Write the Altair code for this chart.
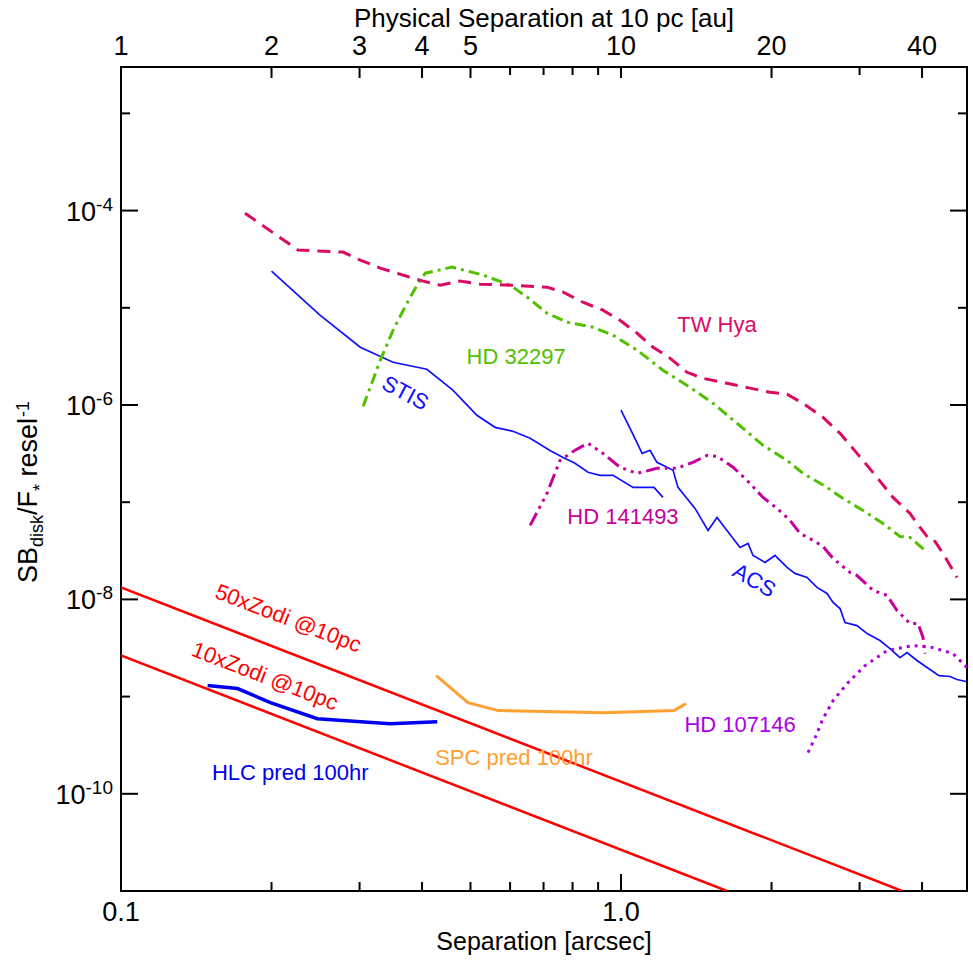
import altair as alt
import pandas as pd

# ---------------- data (separation in arcsec, SB_disk/F* per resel) ----------------
tw_x = [0.177, 0.226, 0.278, 0.301, 0.330, 0.373, 0.402, 0.435, 0.476, 0.523, 0.600, 0.711, 0.766,
        0.839, 0.920, 0.995, 1.077, 1.159, 1.253, 1.355, 1.459, 1.629, 1.811, 1.986, 2.148, 2.312,
        2.535, 2.742, 2.965, 3.251, 3.499, 3.784, 3.963, 4.150, 4.246, 4.406, 4.699]
tw_y = [9.4e-5, 3.92e-5, 3.74e-5, 3.09e-5, 2.56e-5, 2.11e-5, 1.88e-5, 1.71e-5, 1.88e-5, 1.75e-5,
        1.71e-5, 1.63e-5, 1.45e-5, 1.14e-5, 9.45e-6, 7.45e-6, 5.47e-6, 3.93e-6, 3.03e-6, 2.17e-6,
        1.88e-6, 1.67e-6, 1.49e-6, 1.35e-6, 1.29e-6, 1.04e-6, 7.46e-7, 5.11e-7, 3.18e-7, 1.80e-7,
        1.12e-7, 7.67e-8, 5.50e-8, 4.04e-8, 3.95e-8, 2.97e-8, 1.68e-8]

hd32297_x = [0.305, 0.330, 0.350, 0.373, 0.393, 0.406, 0.459, 0.530, 0.600, 0.649, 0.711, 0.780,
             0.879, 0.964, 1.077, 1.213, 1.374, 1.528, 1.706, 1.923, 2.148, 2.312, 2.582, 2.780,
             3.048, 3.342, 3.614, 3.784, 4.055]
hd32297_y = [9.7e-7, 2.88e-6, 5.87e-6, 1.11e-5, 1.79e-5, 2.27e-5, 2.62e-5, 2.17e-5, 1.71e-5,
             1.29e-5, 8.80e-6, 7.12e-6, 6.31e-6, 5.22e-6, 3.66e-6, 2.28e-6, 1.52e-6, 1.04e-6,
             6.49e-7, 3.85e-7, 2.69e-7, 1.98e-7, 1.42e-7, 1.09e-7, 8.23e-8, 6.04e-8, 4.44e-8,
             4.34e-8, 3.19e-8]

stis_x = [0.200, 0.250, 0.301, 0.350, 0.409, 0.461, 0.515, 0.560, 0.608, 0.658, 0.721, 0.766,
          0.809, 0.859, 0.908, 0.964, 1.057, 1.164, 1.213]
stis_y = [2.38e-5, 8.39e-6, 3.93e-6, 2.75e-6, 2.33e-6, 1.42e-6, 7.84e-7, 5.89e-7, 5.36e-7,
          4.54e-7, 3.41e-7, 2.89e-7, 2.51e-7, 2.03e-7, 1.89e-7, 1.89e-7, 1.42e-7, 1.42e-7, 1.12e-7]

acs_x = [1.000, 1.052, 1.102, 1.143, 1.180, 1.225, 1.271, 1.300, 1.355, 1.406, 1.493, 1.556,
         1.629, 1.730, 1.795, 1.837, 1.941, 2.032, 2.148, 2.228, 2.355, 2.466, 2.582, 2.655,
         2.742, 2.805, 2.965, 3.105, 3.296, 3.451, 3.614, 3.733, 3.908, 4.093, 4.325, 4.550,
         4.699, 4.898]
acs_y = [8.83e-7, 5.24e-7, 3.18e-7, 3.42e-7, 2.57e-7, 2.34e-7, 2.13e-7, 1.42e-7, 1.09e-7,
         8.63e-8, 5.12e-8, 6.97e-8, 5.12e-8, 3.42e-8, 3.76e-8, 2.83e-8, 2.40e-8, 2.83e-8,
         2.13e-8, 1.85e-8, 1.68e-8, 1.33e-8, 1.15e-8, 9.3e-9, 8.06e-9, 5.78e-9, 5.38e-9,
         4.45e-9, 3.77e-9, 3.12e-9, 2.52e-9, 2.84e-9, 2.35e-9, 1.99e-9, 1.64e-9, 1.61e-9,
         1.50e-9, 1.43e-9]

hd141493_x = [0.658, 0.711, 0.755, 0.809, 0.859, 0.920, 0.995, 1.077, 1.180, 1.294, 1.393,
              1.486, 1.556, 1.675, 1.786, 1.923, 2.051, 2.178, 2.280, 2.421, 2.535, 2.655,
              2.871, 2.965, 3.192, 3.404, 3.565, 3.784, 3.926, 4.018, 4.055]
hd141493_y = [5.77e-8, 1.23e-7, 2.69e-7, 3.42e-7, 4.04e-7, 3.18e-7, 2.29e-7, 1.98e-7, 2.23e-7,
              2.23e-7, 2.57e-7, 3.03e-7, 2.96e-7, 2.29e-7, 1.68e-7, 1.12e-7, 8.63e-8, 6.50e-8,
              4.78e-8, 4.05e-8, 3.51e-8, 2.64e-8, 1.89e-8, 1.76e-8, 1.24e-8, 1.10e-8, 7.69e-9,
              5.65e-9, 5.65e-9, 4.06e-9, 2.77e-9]

hd107146_x = [2.366, 2.455, 2.535, 2.655, 2.844, 3.076, 3.404, 3.837, 4.207, 4.613, 4.920]
hd107146_y = [2.65e-10, 3.96e-10, 5.93e-10, 9.08e-10, 1.39e-9, 2.08e-9, 2.97e-9, 3.35e-9,
              3.19e-9, 2.77e-9, 1.99e-9]

zodi50_x = [0.1, 3.65]
zodi50_y = [1.33e-8, 1.0e-11]
zodi10_x = [0.1, 1.63]
zodi10_y = [2.65e-9, 1.0e-11]

hlc_x = [0.149, 0.171, 0.199, 0.247, 0.345, 0.429]
hlc_y = [1.30e-9, 1.21e-9, 8.67e-10, 5.93e-10, 5.27e-10, 5.52e-10]

spc_x = [0.427, 0.494, 0.568, 0.925, 1.276, 1.349]
spc_y = [1.64e-9, 8.67e-10, 7.18e-10, 6.84e-10, 7.18e-10, 8.47e-10]

# axis ticks
x_major = [0.1, 1.0]
x_minor = [0.2, 0.3, 0.4, 0.5, 0.6, 0.7, 0.8, 0.9, 2.0, 3.0, 4.0]
x_labels = ["0.1", "1.0"]
au_labeled = [2, 3, 4, 5, 10, 20, 40]
au_label_text = [1, 2, 3, 4, 5, 10, 20, 40]
au_minor = [6, 7, 8, 9, 30]
distance_pc = 10.0
y_major_exp = [-4, -6, -8, -10]
y_minor_exp = [-3, -5, -7, -9]

# annotations: (text, x, y, color, angle)
annotations = [
    ("TW Hya", 1.556, 6.62e-6, "#dd0a64", 0),
    ("HD 32297", 0.617, 3.10e-6, "#50c000", 0),
    ("STIS", 0.370, 1.32e-6, "#1010ff", 28),
    ("HD 141493", 1.009, 6.97e-8, "#c8009a", 0),
    ("ACS", 1.845, 1.56e-8, "#1010ff", 30),
    ("HD 107146", 1.730, 5.14e-10, "#aa00e6", 0),
    ("SPC pred 100hr", 0.611, 2.35e-10, "#ffa033", 0),
    ("HLC pred 100hr", 0.218, 1.65e-10, "#0000ee", 0),
    ("50xZodi @10pc", 0.216, 6.35e-9, "#ff0000", 21),
    ("10xZodi @10pc", 0.194, 1.61e-9, "#ff0000", 21),
]

# ---------------- chart ----------------
W, H = 846, 824
FONT = "Liberation Sans"
xs = alt.Scale(type="log", domain=[0.1, 4.92], nice=False)
ys = alt.Scale(type="log", domain=[1e-11, 3e-3], nice=False)


def X(f="x"):
    return alt.X(f"{f}:Q", scale=xs, axis=None)


def Y(f="y"):
    return alt.Y(f"{f}:Q", scale=ys, axis=None)


def line(xv, yv, color, width, dash=None):
    df = pd.DataFrame({"x": xv, "y": yv, "o": list(range(len(xv)))})
    kw = dict(color=color, strokeWidth=width, clip=True, strokeCap="butt")
    if dash:
        kw["strokeDash"] = dash
    return alt.Chart(df).mark_line(**kw).encode(x=X(), y=Y(), order="o:Q")


layers = [
    line(zodi50_x, zodi50_y, "#ff0000", 2.5),
    line(zodi10_x, zodi10_y, "#ff0000", 2.5),
    line(spc_x, spc_y, "#ffa033", 3),
    line(hlc_x, hlc_y, "#0000ee", 3.5),
    line(stis_x, stis_y, "#1010ff", 1.7),
    line(acs_x, acs_y, "#1010ff", 1.7),
    line(hd107146_x, hd107146_y, "#aa00e6", 3, [3, 5]),
    line(hd141493_x, hd141493_y, "#c8009a", 3, [14, 5, 3, 5, 3, 5, 3, 5]),
    line(hd32297_x, hd32297_y, "#50c000", 3, [11, 5, 3, 5]),
    line(tw_x, tw_y, "#dd0a64", 3, [13, 8]),
]


def xrule(vals, y0, y1):
    return alt.Chart(pd.DataFrame({"x": vals})).mark_rule(color="black", strokeWidth=2).encode(
        x=X(), y=alt.value(y0), y2=alt.value(y1))


def yrule(vals, x0, x1):
    return alt.Chart(pd.DataFrame({"y": vals})).mark_rule(color="black", strokeWidth=2).encode(
        y=Y(), x=alt.value(x0), x2=alt.value(x1))


top_major_as = [a / distance_pc for a in au_labeled]
top_minor_as = [a / distance_pc for a in au_minor]
ymaj = [10.0 ** e for e in y_major_exp]
ymin = [10.0 ** e for e in y_minor_exp]

layers += [
    xrule(x_major, H, H - 17), xrule(x_minor, H, H - 9),
    xrule(top_major_as, 0, 11), xrule(top_minor_as, 0, 8),
    yrule(ymaj, 0, 17), yrule(ymin, 0, 9),
    yrule(ymaj, W, W - 17), yrule(ymin, W, W - 9),
]

# bottom tick labels
layers.append(
    alt.Chart(pd.DataFrame({"x": x_major, "t": x_labels})).mark_text(
        font=FONT, fontSize=27, baseline="alphabetic", align="center", color="black"
    ).encode(x=X(), y=alt.value(H + 30), text="t:N")
)
# top tick labels (au)
layers.append(
    alt.Chart(pd.DataFrame({"x": [a / distance_pc for a in au_label_text],
                            "t": [str(a) for a in au_label_text]})).mark_text(
        font=FONT, fontSize=27, baseline="alphabetic", align="center", color="black"
    ).encode(x=X(), y=alt.value(-12), text="t:N")
)

# left tick labels 10^n with superscript exponent
BASE_FS, EXP_FS = 27, 19
exp_txt = [f"-{abs(e)}" for e in y_major_exp]
exp_w = [(0.333 + 0.556 * (len(t) - 1)) * EXP_FS for t in exp_txt]
ylab = pd.DataFrame({"y": ymaj, "e": exp_txt, "b": ["10"] * len(ymaj),
                     "bx": [-8 - w for w in exp_w]})
layers.append(
    alt.Chart(ylab).mark_text(font=FONT, fontSize=EXP_FS, baseline="alphabetic", align="right",
                              color="black").encode(y=Y(), x=alt.value(-8), text="e:N")
)
layers.append(
    alt.Chart(ylab).mark_text(font=FONT, fontSize=BASE_FS, baseline="alphabetic", align="right",
                              dy=10, color="black").encode(
        y=Y(), x=alt.X("bx:Q", scale=None), text="b:N")
)

one = pd.DataFrame({"a": [0]})
# axis titles
layers.append(alt.Chart(one).mark_text(text="Separation [arcsec]", font=FONT, fontSize=25,
                                       align="center", baseline="alphabetic", color="black").encode(
    x=alt.value(W / 2), y=alt.value(H + 59)))
layers.append(alt.Chart(one).mark_text(text="Physical Separation at 10 pc [au]", font=FONT,
                                       fontSize=26, align="center", baseline="alphabetic",
                                       color="black").encode(
    x=alt.value(W / 2), y=alt.value(-40)))

# rotated y title with sub/superscripts: (text, size, baseline shift, extra gap before)
adv = {"S": .667, "B": .667, "d": .556, "i": .222, "s": .5, "k": .5, "/": .278, "F": .611,
       "*": .389, " ": .278, "r": .333, "e": .556, "l": .222, "-": .333, "1": .556}
pieces = [("SB", 27, 0, 0), ("disk", 18, 6, 0), ("/F", 27, 0, 0), ("*", 18, 9, 0),
          ("resel", 27, 0, 0.278 * 27), ("-1", 18, -8, 1)]
total = sum(sum(adv[c] for c in t) * fs + g for t, fs, _, g in pieces)
pos = 492 - 67 + total / 2
for t, fs, shift, gap in pieces:
    pos -= gap
    layers.append(alt.Chart(one).mark_text(text=t, font=FONT, fontSize=fs, angle=270, align="left",
                                           baseline="alphabetic", color="black").encode(
        x=alt.value(-84 + shift), y=alt.value(pos)))
    pos -= sum(adv[c] for c in t) * fs

# annotations
for t, ax, ay, col, ang in annotations:
    layers.append(alt.Chart(pd.DataFrame({"x": [ax], "y": [ay]})).mark_text(
        text=t, font=FONT, fontSize=22, color=col, angle=ang, align="center", baseline="middle"
    ).encode(x=X(), y=Y()))

chart = alt.layer(*layers).properties(
    width=W, height=H,
    autosize=alt.AutoSizeParams(type="none"),
    padding={"left": 121, "top": 67, "right": 6, "bottom": 69},
).configure_view(stroke="black", strokeWidth=2)

chart.save("out.html", embed_options={"renderer": "svg", "actions": False})
